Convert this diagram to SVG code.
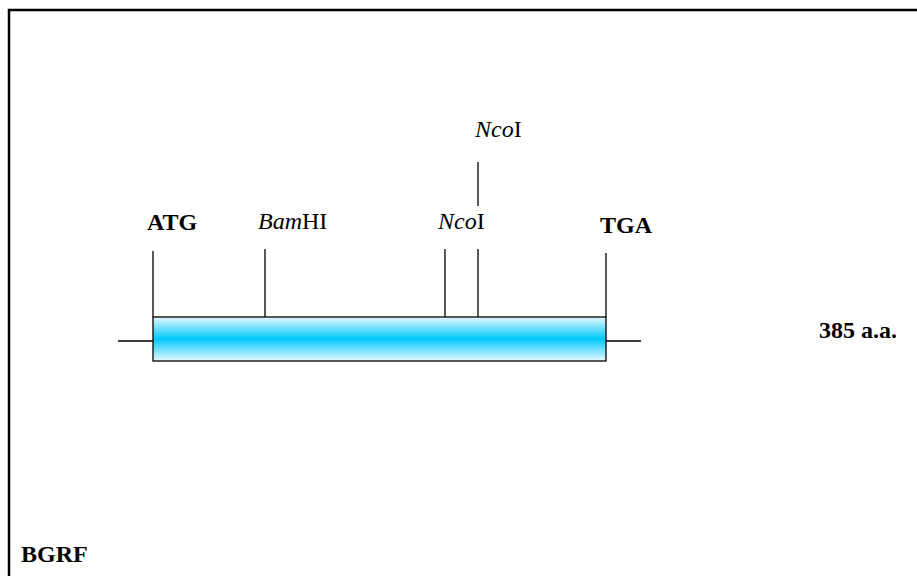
<svg xmlns="http://www.w3.org/2000/svg" width="917" height="576" viewBox="0 0 917 576">
  <style>
    .lbl { font-family: "Liberation Serif", "Times New Roman", serif; font-size: 24px; fill: #000; }
    .b { font-weight: bold; }
    .i { font-style: italic; }
    .ln { stroke: #000; stroke-width: 1.3; fill: none; }
  </style>
  <defs>
    <linearGradient id="orf" x1="0" y1="0" x2="0" y2="1">
      <stop offset="0" stop-color="#e4f8fe"/>
      <stop offset="0.5" stop-color="#00c8fc"/>
      <stop offset="1" stop-color="#e8fafe"/>
    </linearGradient>
  </defs>

  <rect width="917" height="576" fill="#fff"/>
  <!-- frame -->
  <path d="M9,576 V10 H917" fill="none" stroke="#000" stroke-width="2.5"/>

  <g id="connectors">
    <line class="ln" x1="118" y1="341" x2="153" y2="341"/>
    <line class="ln" x1="606" y1="341" x2="641" y2="341"/>
    <line class="ln" x1="153" y1="251" x2="153" y2="317"/>
    <line class="ln" x1="265" y1="249" x2="265" y2="317"/>
    <line class="ln" x1="445" y1="249" x2="445" y2="317"/>
    <line class="ln" x1="478" y1="249" x2="478" y2="317"/>
    <line class="ln" x1="478" y1="162" x2="478" y2="206"/>
    <line class="ln" x1="606" y1="253" x2="606" y2="317"/>
  </g>

  <g id="orf-bar">
    <rect x="153" y="317" width="453" height="44" fill="url(#orf)" stroke="#000" stroke-width="1.3"/>
  </g>

  <g id="atg"><text class="lbl b" x="147" y="230">ATG</text></g>
  <g id="bamhi"><text class="lbl" x="258" y="229"><tspan class="i">Bam</tspan>HI</text></g>
  <g id="ncoi-1"><text class="lbl" x="438" y="229"><tspan class="i">Nco</tspan>I</text></g>
  <g id="ncoi-2"><text class="lbl" x="475" y="137"><tspan class="i">Nco</tspan>I</text></g>
  <g id="tga"><text class="lbl b" x="600" y="233">TGA</text></g>
  <g id="length"><text class="lbl b" x="819" y="338">385 a.a.</text></g>
  <g id="name"><text class="lbl b" x="21" y="562">BGRF</text></g>
</svg>
